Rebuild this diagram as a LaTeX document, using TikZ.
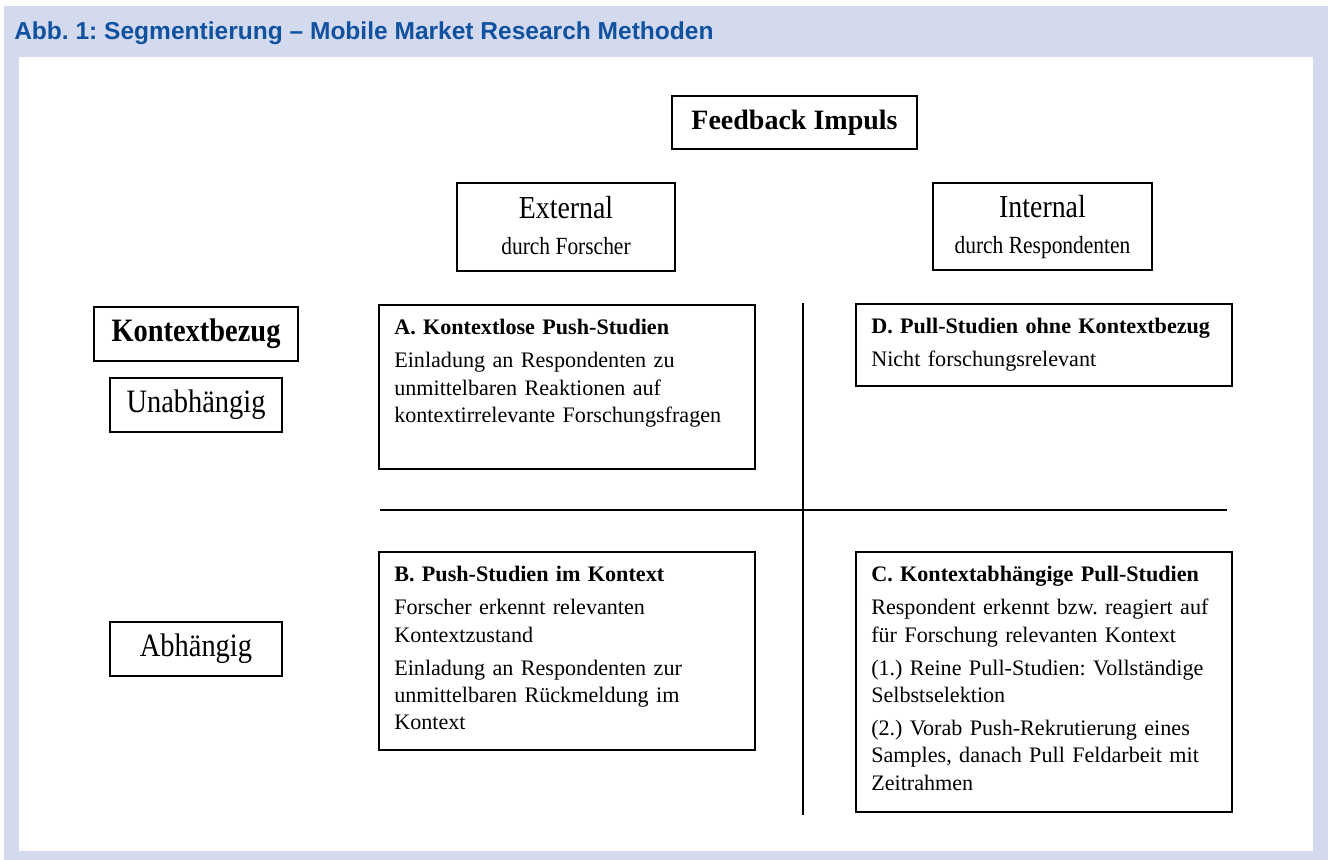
\documentclass[tikz,border=0pt]{standalone}
\usepackage{fontspec}
\setmainfont{Liberation Serif}
\newfontfamily\narrowserif[FakeStretch=0.87]{Liberation Serif}
\newfontfamily\headsans{Liberation Sans}
\usepackage{tikz}

\definecolor{panelblue}{RGB}{212,218,238}
\definecolor{titleblue}{RGB}{16,82,160}

\frenchspacing

\begin{document}
\begin{tikzpicture}[
    x=0.75pt, y=-0.75pt,
    frame/.style={rectangle, draw=black, line width=1.5pt, fill=white},
    cell/.style={frame, minimum width=282pt, anchor=north west, inner sep=0pt},
    celltext/.style={anchor=north west, text width=258pt, align=left,
                     inner xsep=12pt, inner ysep=11.5pt,
                     font=\fontsize{16.6}{20.6}\selectfont},
    side/.style={frame, minimum width=129pt, minimum height=40.5pt,
                 font=\narrowserif\fontsize{24.5}{28}\selectfont},
    head/.style={frame, align=center, inner sep=0pt,
                 font=\narrowserif\fontsize{24}{26}\selectfont},
    axis/.style={line width=2pt}
  ]

    % Panel and caption
    \useasboundingbox (0,0) rectangle (1328,860);
    \fill[panelblue] (4,6) rectangle (1328,860);
    \fill[white] (19,57) rectangle (1313,851);
    \node[anchor=base west, inner sep=0pt, text=titleblue,
          font=\headsans\bfseries\fontsize{18.4}{22}\selectfont] (caption)
      at (14,39) {Abb.~1: Segmentierung – Mobile Market Research Methoden};

    % Feedback impulse
    \node[frame, minimum width=183.75pt, minimum height=39.75pt,
          font=\bfseries\fontsize{21}{24}\selectfont] (impuls) at (794.5,122.5) {Feedback Impuls};
    \node[head, minimum width=163.5pt, minimum height=66pt, text depth=3pt] (extern) at (566,227)
      {External\\[1pt]{\fontsize{18.5}{22}\selectfont durch Forscher\vphantom{p}}};
    \node[head, minimum width=164pt, minimum height=65pt, text depth=3pt] (intern) at (1042.5,226.5)
      {Internal\\[1pt]{\fontsize{18.5}{22}\selectfont durch Respondenten}};

    % Context rows
    \node[frame, minimum width=153pt, minimum height=40.5pt,
          font=\narrowserif\bfseries\fontsize{24.5}{28}\selectfont] (bezug) at (196,334) {Kontextbezug};
    \node[side] (unabh) at (196,405) {Unabhängig};
    \node[side] (abh) at (196,648.5) {Abhängig};

    % Axes
    \coordinate (vtop) at (803,303);
    \coordinate (vbot) at (803,815);
    \coordinate (hleft) at (380,510);
    \coordinate (hright) at (1227,510);
    \draw[axis] (vtop) -- (vbot);
    \draw[axis] (hleft) -- (hright);

    % Quadrant A
    \node[cell, minimum height=123pt] (quadA) at (378,304) {};
    \node[celltext] (textA) at (quadA.north west)
      {\textbf{A. Kontextlose Push-Studien}\\[4pt]
       Einladung an Respondenten zu\\
       unmittelbaren Reaktionen auf\\
       kontextirrelevante Forschungsfragen};

    % Quadrant D
    \node[cell, minimum height=61.5pt] (quadD) at (855,303) {};
    \node[celltext] (textD) at (quadD.north west)
      {\textbf{D. Pull-Studien ohne Kontextbezug}\\[4pt]
       Nicht forschungsrelevant};

    % Quadrant B
    \node[cell, minimum height=148.5pt] (quadB) at (378,551) {};
    \node[celltext] (textB) at (quadB.north west)
      {\textbf{B. Push-Studien im Kontext}\\[4pt]
       Forscher erkennt relevanten\\
       Kontextzustand\\[4pt]
       Einladung an Respondenten zur\\
       unmittelbaren Rückmeldung im\\
       Kontext};

    % Quadrant C
    \node[cell, minimum height=195pt] (quadC) at (855,551) {};
    \node[celltext] (textC) at (quadC.north west)
      {\textbf{C. Kontextabhängige Pull-Studien}\\[4pt]
       Respondent erkennt bzw. reagiert auf\\
       für Forschung relevanten Kontext\\[4pt]
       (1.) Reine Pull-Studien: Vollständige\\
       Selbstselektion\\[4pt]
       (2.) Vorab Push-Rekrutierung eines\\
       Samples, danach Pull Feldarbeit mit\\
       Zeitrahmen};

\end{tikzpicture}
\end{document}
